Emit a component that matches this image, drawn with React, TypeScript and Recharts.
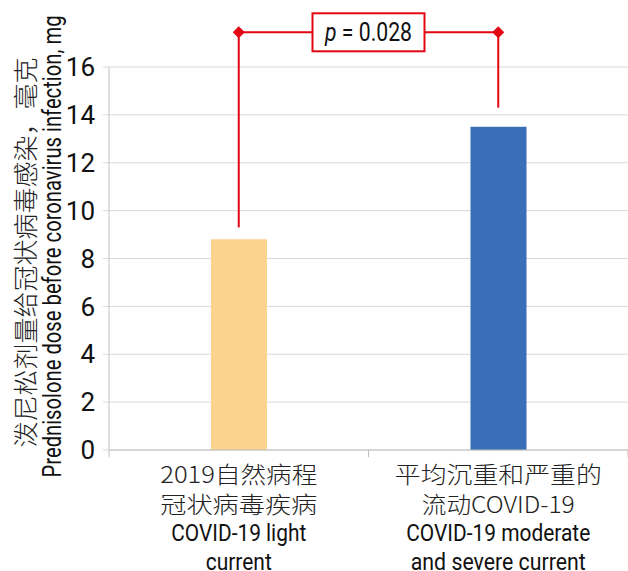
import React from "react";
import {
  Bar,
  BarChart,
  CartesianGrid,
  Cell,
  ReferenceDot,
  ReferenceLine,
  XAxis,
  YAxis,
} from "recharts";

const categories = ["light", "moderateSevere"];
const doseValues = [8.8, 13.5];
const barColors = ["#FCD28F", "#3A6FB7"];
const zhLabels = [
  ["2019自然病程", "冠状病毒疾病"],
  ["平均沉重和严重的", "流动COVID-19"],
];
const enLabels = [
  ["COVID-19 light", "current"],
  ["COVID-19 moderate", "and severe current"],
];
const yTitleZh = "泼尼松剂量给冠状病毒感染，毫克";
const yTitleEn = "Prednisolone dose before coronavirus infection, mg";
const yTicks = [0, 2, 4, 6, 8, 10, 12, 14, 16];
const boundaryTicks = [0, 1, 2];
const bracketLevel = 17.45;
const bracketEnds = [9.3, 14.3];
const pValue = "0.028";

const data = categories.map((c, i) => ({ cat: c, pos: i + 0.5, dose: doseValues[i] }));

// rendered widths of the condensed reference typeface
const textWidths: Record<string, number> = {
  "2019自然病程": 157,
  "冠状病毒疾病": 157,
  "平均沉重和严重的": 207,
  "流动COVID-19": 153,
  "COVID-19 light": 135,
  current: 66,
  "COVID-19 moderate": 184,
  "and severe current": 175,
  [yTitleZh]: 390,
  [yTitleEn]: 462,
};

const SANS = "Roboto, 'Liberation Sans', sans-serif";
const CJK = "'Noto Sans CJK SC', sans-serif";
const RED = "#E30613";
const GRID = "#D9D9D9";
const AXIS = "#BFBFBF";

function FitText({ text, ...rest }: any) {
  const w = textWidths[text];
  return (
    <text {...rest} textLength={w} lengthAdjust="spacingAndGlyphs">
      {text}
    </text>
  );
}

function CategoryTick({ x, y, payload, index }: any) {
  const i = typeof index === "number" ? index : categories.indexOf(payload.value);
  const zh = zhLabels[i] || [];
  const en = enLabels[i] || [];
  return (
    <g>
      {zh.map((t, k) => (
        <FitText
          key={"zh" + k}
          text={t}
          x={x}
          y={y + 23 + k * 30}
          textAnchor="middle"
          dominantBaseline="central"
          fontFamily={CJK}
          fontWeight={300}
          fontSize={23}
          fill="#222"
        />
      ))}
      {en.map((t, k) => (
        <FitText
          key={"en" + k}
          text={t}
          x={x}
          y={y + 83 + k * 29}
          textAnchor="middle"
          dominantBaseline="central"
          fontFamily={SANS}
          fontSize={24}
          fill="#111"
        />
      ))}
    </g>
  );
}

function YTitle({ viewBox }: any) {
  const cy = viewBox.y + viewBox.height / 2;
  return (
    <g>
      <FitText
        text={yTitleZh}
        transform={`translate(24, ${cy - 6}) rotate(-90)`}
        textAnchor="middle"
        dominantBaseline="central"
        fontFamily={CJK}
        fontWeight={300}
        fontSize={25}
        fill="#222"
      />
      <FitText
        text={yTitleEn}
        transform={`translate(52, ${cy - 12}) rotate(-90)`}
        textAnchor="middle"
        dominantBaseline="central"
        fontFamily={SANS}
        fontSize={25}
        fill="#111"
      />
    </g>
  );
}

function Diamond({ cx, cy }: any) {
  const r = 6;
  return (
    <path
      d={`M${cx},${cy - r} L${cx + r},${cy} L${cx},${cy + r} L${cx - r},${cy} Z`}
      fill={RED}
    />
  );
}

function PBox({ cx, cy }: any) {
  return (
    <g>
      <rect x={cx - 56} y={cy - 19} width={112} height={38} fill="#fff" stroke={RED} strokeWidth={2} />
      <text
        x={cx}
        y={cy}
        textAnchor="middle"
        dominantBaseline="central"
        fontFamily={SANS}
        fontSize={25}
        fill="#111"
        textLength={87}
        lengthAdjust="spacingAndGlyphs"
      >
        <tspan fontStyle="italic">p</tspan> = {pValue}
      </text>
    </g>
  );
}

export default function App() {
  return (
    <div style={{ position: "absolute", left: 0, top: 0, background: "#fff" }}>
      <BarChart
        width={628}
        height={571}
        data={data}
        margin={{ top: 67, right: 0, bottom: 0, left: 0 }}
      >
        <CartesianGrid stroke={GRID} vertical={false} />
        <XAxis
          dataKey="cat"
          tickLine={false}
          tickSize={0}
          tickMargin={0}
          axisLine={{ stroke: AXIS }}
          height={121}
          interval={0}
          tick={<CategoryTick />}
        />
        <XAxis
          xAxisId="num"
          dataKey="pos"
          type="number"
          domain={[0, 2]}
          allowDataOverflow
          hide
        />
        <YAxis
          domain={[0, 16]}
          ticks={yTicks}
          interval={0}
          width={109}
          tickSize={6}
          tickMargin={8}
          tickLine={{ stroke: GRID }}
          axisLine={{ stroke: AXIS }}
          tick={{ fontFamily: SANS, fontSize: 26, fill: "#111" }}
          label={<YTitle />}
        />
        <Bar dataKey="dose" barSize={56} isAnimationActive={false}>
          {data.map((d, i) => (
            <Cell key={d.cat} fill={barColors[i]} />
          ))}
        </Bar>
        {boundaryTicks.map((b) => (
          <ReferenceLine
            key={"bt" + b}
            xAxisId="num"
            segment={[
              { x: b, y: 0 },
              { x: b, y: -0.3 },
            ]}
            stroke={AXIS}
            ifOverflow="visible"
          />
        ))}
        {bracketEnds.map((e, i) => (
          <ReferenceLine
            key={"bv" + i}
            xAxisId="num"
            segment={[
              { x: 0.5 + i, y: e },
              { x: 0.5 + i, y: bracketLevel },
            ]}
            stroke={RED}
            strokeWidth={2}
            ifOverflow="visible"
          />
        ))}
        <ReferenceLine
          xAxisId="num"
          segment={[
            { x: 0.5, y: bracketLevel },
            { x: 1.5, y: bracketLevel },
          ]}
          stroke={RED}
          strokeWidth={2}
          ifOverflow="visible"
        />
        {bracketEnds.map((_, i) => (
          <ReferenceDot
            key={"bd" + i}
            xAxisId="num"
            x={0.5 + i}
            y={bracketLevel}
            ifOverflow="visible"
            shape={<Diamond />}
          />
        ))}
        <ReferenceDot xAxisId="num" x={1} y={bracketLevel} ifOverflow="visible" shape={<PBox />} />
      </BarChart>
    </div>
  );
}
